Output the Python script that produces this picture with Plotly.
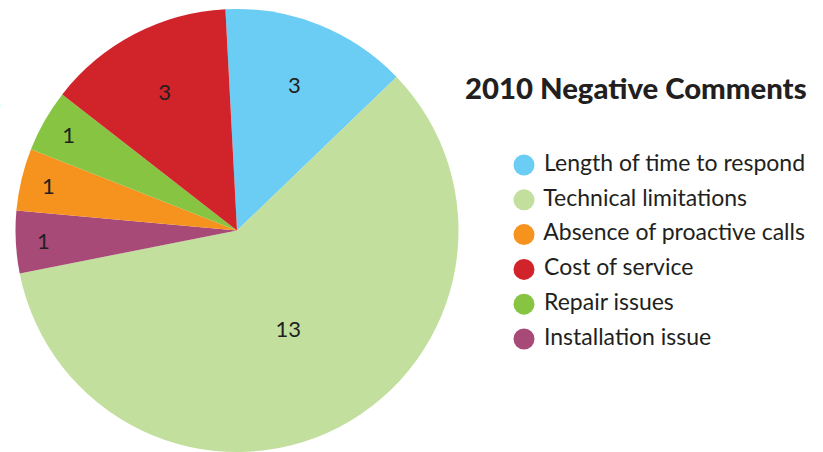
import plotly.graph_objects as go

# Negative comments received in 2010, by category
categories = [
    "Length of time to respond",
    "Technical limitations",
    "Absence of proactive calls",
    "Cost of service",
    "Repair issues",
    "Installation issue",
]
counts = [3, 13, 1, 3, 1, 1]
colors = ["#6BCDF4", "#C2DF9D", "#F6921E", "#D1232A", "#86C441", "#A84A77"]

# Order in which the slices run clockwise round the pie
slice_order = [
    "Length of time to respond",
    "Technical limitations",
    "Installation issue",
    "Absence of proactive calls",
    "Repair issues",
    "Cost of service",
]

W, H = 823, 452
TEXT = "#231F20"
FONT = "Lato"

idx = [categories.index(c) for c in slice_order]
pie_labels = [categories[i] for i in idx]
pie_values = [counts[i] for i in idx]
pie_colors = [colors[i] for i in idx]

fig = go.Figure()

fig.add_trace(go.Pie(
    labels=pie_labels,
    values=pie_values,
    text=[str(v) for v in pie_values],
    textinfo="text",
    textposition="inside",
    insidetextorientation="horizontal",
    textfont=dict(family=FONT, size=22, color=TEXT),
    marker=dict(colors=pie_colors, line=dict(width=0)),
    sort=False,
    direction="clockwise",
    rotation=-3,
    hoverinfo="label+value",
    showlegend=False,
    domain=dict(x=[14.5 / W, 459.5 / W], y=[0, 1 - 9 / H]),
))

# Key: one dot and label per category, listed top to bottom
key_x, key_y0, key_gap = 524, 165, 34.8
fig.add_trace(go.Scatter(
    x=[key_x] * len(categories),
    y=[key_y0 + i * key_gap for i in range(len(categories))],
    mode="markers+text",
    text=[" " + c for c in categories],
    textposition="middle right",
    textfont=dict(family=FONT, size=23, color=TEXT),
    marker=dict(size=21, color=colors, line=dict(width=0)),
    hoverinfo="skip",
    showlegend=False,
    cliponaxis=False,
))

fig.add_annotation(
    text="2010 Negative Comments",
    xref="paper", yref="paper",
    x=463 / W, y=1 - 88 / H,
    xanchor="left", yanchor="middle",
    showarrow=False,
    font=dict(family=FONT, size=29.3, color=TEXT, weight=900),
)

# Tail end of a caption running in from the left edge
fig.add_annotation(
    text="Comments",
    xref="paper", yref="paper",
    x=3 / W, y=1 - 100 / H,
    xanchor="right", yanchor="middle",
    showarrow=False,
    font=dict(family=FONT, size=21, color=TEXT),
)

fig.update_layout(
    width=W, height=H,
    margin=dict(l=0, r=0, t=0, b=0),
    paper_bgcolor="white",
    plot_bgcolor="rgba(0,0,0,0)",
    xaxis=dict(range=[0, W], visible=False, fixedrange=True),
    yaxis=dict(range=[H, 0], visible=False, fixedrange=True),
    showlegend=False,
)

fig.write_html("out.html")
